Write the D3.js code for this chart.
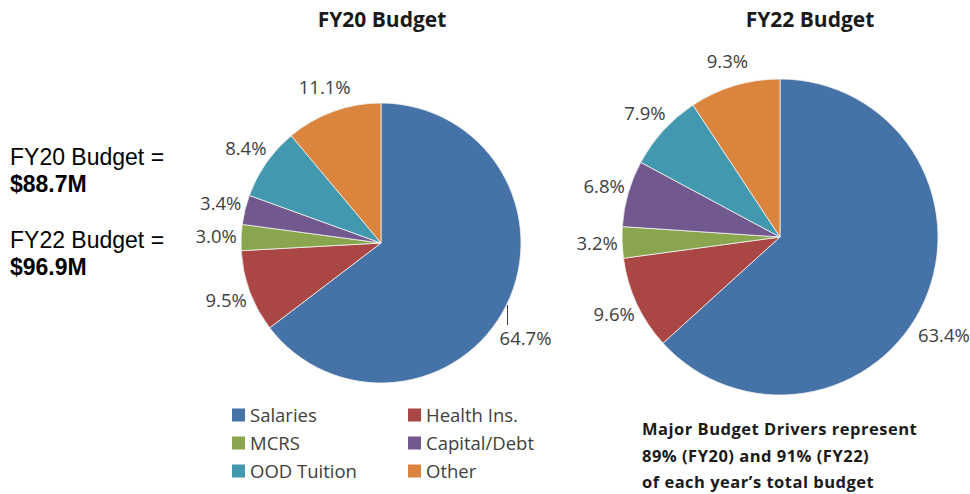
<!DOCTYPE html>
<html><head><meta charset="utf-8">
<script src="https://cdn.jsdelivr.net/npm/d3@7"></script>
<style>body{margin:0;background:#fff}svg{display:block}</style>
</head><body>
<svg id="c" width="970" height="494"></svg>
<script>
const categories = ["Salaries", "Health Ins.", "MCRS", "Capital/Debt", "OOD Tuition", "Other"];
const fy20Values = [64.7, 9.5, 3.0, 3.4, 8.4, 11.1];
const fy22Values = [63.4, 9.6, 3.2, 6.8, 7.9, 9.3];
const chartTitles = ["FY20 Budget", "FY22 Budget"];
const sideNotes = [["FY20 Budget =", "$88.7M"], ["FY22 Budget =", "$96.9M"]];
const footNote = ["Major Budget Drivers represent", "89% (FY20) and 91% (FY22)", "of each year\u2019s total budget"];
const colors = ["#4572A7", "#AA4643", "#89A54E", "#71588F", "#4198AF", "#DB843D"];

const svg = d3.select("#c");
const color = d3.scaleOrdinal().domain(categories).range(colors);
const fmt = v => d3.format(".1f")(v) + "%";
const labelFont = "'Open Sans', Lato, sans-serif";
const deg = Math.PI / 180;

function drawPie(values, cx, cy, r, leader) {
  const data = categories.map((c, i) => ({cat: c, v: values[i]}));
  const pie = d3.pie().sort(null).value(d => d.v);
  const arcs = pie(data);
  const arc = d3.arc().innerRadius(0).outerRadius(r);
  const g = svg.append("g").attr("transform", `translate(${cx},${cy})`);
  g.selectAll("path").data(arcs).join("path")
    .attr("d", arc).attr("fill", d => color(d.data.cat))
    .attr("stroke", "#f2f2f2").attr("stroke-width", 0.8);
  arcs.forEach((a, i) => {
    const mid = (a.startAngle + a.endAngle) / 2;
    const ang = i === 0 ? mid + 7 * deg : mid;
    const rr = i === 0 ? r + 33 : r + 25;
    const x = Math.sin(ang) * rr, y = -Math.cos(ang) * rr;
    if (i === 0 && leader) {
      const ex = x - 18;
      const ey = Math.sqrt(Math.max(0, r * r - ex * ex));
      g.append("line").attr("x1", ex).attr("x2", ex)
        .attr("y1", ey + 2).attr("y2", y - 13)
        .attr("stroke", "#404040").attr("stroke-width", 1);
    }
    g.append("text").attr("x", x).attr("y", y + 6.5)
      .attr("text-anchor", "middle")
      .attr("font-family", labelFont).attr("font-size", 18.5).attr("fill", "#404040")
      .text(fmt(a.data.v));
  });
}

drawPie(fy20Values, 381, 243, 140, true);
drawPie(fy22Values, 780, 237, 158, false);

// titles
[[382, chartTitles[0]], [810, chartTitles[1]]].forEach(([x, t]) => {
  svg.append("text").attr("x", x).attr("y", 27).attr("text-anchor", "middle")
    .attr("font-family", labelFont).attr("font-weight", 700).attr("font-size", 21)
    .attr("fill", "#1a1a1a").text(t);
});

// side notes
sideNotes.forEach((n, i) => {
  const base = 165 + i * 83;
  svg.append("text").attr("x", 10).attr("y", base)
    .attr("font-family", "'Liberation Sans', Arial, sans-serif").attr("font-size", 23)
    .attr("fill", "#000").text(n[0]);
  svg.append("text").attr("x", 10).attr("y", base + 27)
    .attr("font-family", "'Liberation Sans', Arial, sans-serif").attr("font-size", 23)
    .attr("font-weight", 700).attr("fill", "#000").text(n[1]);
});

// legend
const leg = svg.append("g");
categories.forEach((c, i) => {
  const col = i % 2, row = Math.floor(i / 2);
  const x = 232 + col * 176, y = 415 + row * 28;
  leg.append("rect").attr("x", x).attr("y", y - 6.5).attr("width", 13).attr("height", 13)
    .attr("fill", color(c));
  leg.append("text").attr("x", x + 18).attr("y", y + 6.5)
    .attr("font-family", labelFont).attr("font-size", 18.5).attr("fill", "#404040").text(c);
});

// foot note
footNote.forEach((t, i) => {
  svg.append("text").attr("x", 642).attr("y", 435 + i * 26.5)
    .attr("font-family", labelFont).attr("font-weight", 700).attr("font-size", 16.5)
    .attr("letter-spacing", 0.5)
    .attr("fill", "#1a1a1a").text(t);
});
</script>
</body></html>
